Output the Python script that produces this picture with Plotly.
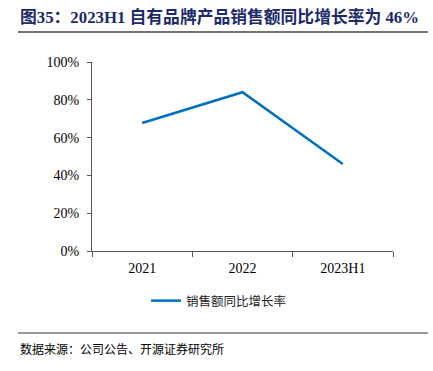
import plotly.graph_objects as go

categories = ["2021", "2022", "2023H1"]
growth = [0.677, 0.84, 0.46]
series_name = "销售额同比增长率"
y_ticks = [0, 0.2, 0.4, 0.6, 0.8, 1.0]
y_tick_labels = ["0%", "20%", "40%", "60%", "80%", "100%"]

FONT = "Liberation Serif, Noto Sans CJK SC, serif"
W, H = 433, 371
ML, MR, MT, MB = 92, 40, 62, 120
pw, ph = W - ML - MR, H - MT - MB

def px_to_paper(x, y):
    return (x - ML) / pw, (H - MB - y) / ph

fig = go.Figure()
fig.add_trace(go.Scatter(
    x=categories, y=growth, mode="lines", name=series_name,
    line=dict(color="#0070C0", width=2.5),
))

lx, ly = px_to_paper(146, 286)
fig.update_layout(
    width=W, height=H,
    margin=dict(l=ML, r=MR, t=MT, b=MB),
    paper_bgcolor="white", plot_bgcolor="white",
    font=dict(family=FONT, size=13, color="#000000"),
    showlegend=True,
    legend=dict(orientation="h", x=lx, y=ly, xanchor="left", yanchor="top",
                font=dict(family="Noto Sans CJK SC, Liberation Serif", size=12.5, color="#222222")),
    xaxis=dict(
        type="category", range=[-0.5, 2.5],
        showline=True, linecolor="#555555", linewidth=1,
        ticks="outside", tickson="boundaries", ticklen=5, tickcolor="#555555",
        showgrid=False, tickfont=dict(family=FONT, size=14), ticklabelstandoff=4,
    ),
    yaxis=dict(
        range=[0, 1.0], tickvals=y_ticks, ticktext=y_tick_labels,
        showline=True, linecolor="#555555", linewidth=1,
        ticks="outside", ticklen=4, tickcolor="#555555",
        showgrid=False, zeroline=False, tickfont=dict(family=FONT, size=14),
        ticklabelstandoff=5,
    ),
)

tx, ty = px_to_paper(18, 17)
fx, fy = px_to_paper(18, 348)
fig.add_annotation(text="<b>图35：2023H1 自有品牌产品销售额同比增长率为 46%</b>",
                   x=tx, y=ty, xref="paper", yref="paper", showarrow=False,
                   xanchor="left", yanchor="middle",
                   font=dict(family="Liberation Serif, Noto Sans CJK SC", size=16.8, color="#1B2A6B"))
fig.add_annotation(text="数据来源：公司公告、开源证券研究所",
                   x=fx, y=fy, xref="paper", yref="paper", showarrow=False,
                   xanchor="left", yanchor="middle",
                   font=dict(family="Noto Sans CJK SC", size=12, color="#000000"))

x0, y0 = px_to_paper(18, 32)
x1, _ = px_to_paper(428, 32)
_, fly = px_to_paper(18, 333)
fig.add_shape(type="line", xref="paper", yref="paper", x0=x0, x1=x1, y0=y0, y1=y0,
              line=dict(color="#444444", width=1.3))
fig.add_shape(type="line", xref="paper", yref="paper", x0=x0, x1=x1, y0=fly, y1=fly,
              line=dict(color="#333333", width=1))

fig.write_html("out.html", config={"displayModeBar": False},
               post_script="document.body.style.margin='0';")
